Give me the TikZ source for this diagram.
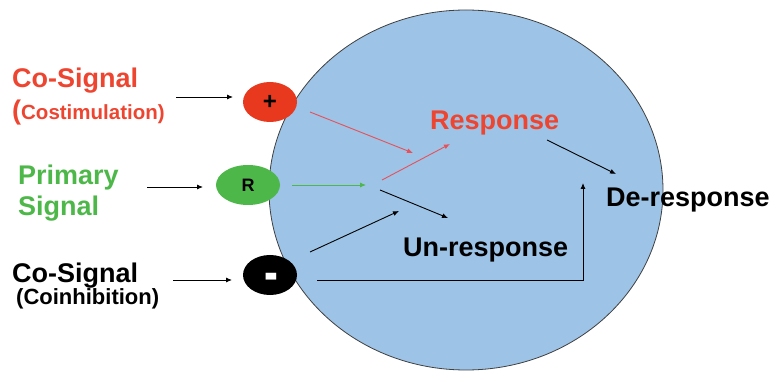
\documentclass[tikz,border=0pt]{standalone}
\usepackage{fontspec}
\setmainfont{Liberation Sans}
\usetikzlibrary{arrows.meta,shapes.geometric}
\definecolor{cred}{HTML}{EE4530}
\definecolor{ered}{HTML}{E8391F}
\definecolor{cgreen}{HTML}{4DB849}
\definecolor{cblue}{HTML}{9DC3E6}
\definecolor{lred}{HTML}{E8505A}
\tikzset{
  big/.style={inner sep=0pt, font=\fontsize{27}{32}\selectfont\bfseries},
  blob/.style={ellipse, minimum width=54pt, minimum height=40pt, inner sep=0pt},
  arr/.style={-{Latex[length=6pt,width=5pt]}, line width=0.9pt},
}
\begin{document}
\begin{tikzpicture}[x=1pt,y=-1pt]
\useasboundingbox (0,0) rectangle (776,371);
% big cell
\node[draw=black!75, line width=0.8pt, fill=cblue, ellipse, minimum width=394pt, minimum height=360pt, inner sep=0pt] (cell) at (466,190) {};
% left labels
\node[big, text=cred, anchor=base west] (cosig) at (12,88) {Co-Signal};
\node[inner sep=0pt, text=cred, anchor=base west, font=\bfseries] (costim) at (12,120) {{\fontsize{27}{32}\selectfont(}{\fontsize{20.5}{24}\selectfont Costimulation)}};
\node[big, text=cgreen, anchor=base west] (prim) at (18,185) {Primary};
\node[big, text=cgreen, anchor=base west] (sig) at (18,216) {Signal};
\node[big, anchor=base west] (coinh) at (12,283) {Co-Signal};
\node[inner sep=0pt, anchor=base west, font=\fontsize{22}{24}\selectfont\bfseries] (coinhb) at (16,305) {(Coinhibition)};
% receptor blobs
\node[blob, fill=ered, font=\fontsize{24}{24}\selectfont\bfseries] (plus) at (270,102) {+};
\node[blob, fill=cgreen, minimum width=64pt, font=\fontsize{18}{18}\selectfont\bfseries] (R) at (248,185) {R};
\node[blob, fill=black] (minus) at (270,275) {};
\node[inner sep=0pt, text=white, anchor=base, font=\fontsize{26}{26}\selectfont\bfseries] (minuslbl) at (271,291) {\scalebox{1.6}[2.2]{-}};
% outcome labels
\node[big, text=cred, anchor=base west] (resp) at (430,130) {Response};
\node[big, anchor=base west] (unresp) at (403,257) {Un-response};
\node[big, anchor=base west] (deresp) at (606,207) {De-response};
% coordinates
\coordinate (a1s) at (176,97);  \coordinate (a1e) at (233,97);
\coordinate (a2s) at (147,187); \coordinate (a2e) at (203,187);
\coordinate (a3s) at (173,280); \coordinate (a3e) at (232,280);
\coordinate (r1s) at (310,112); \coordinate (r1e) at (413,153);
\coordinate (r2s) at (382,180); \coordinate (r2e) at (450,144);
\coordinate (g1s) at (292,185); \coordinate (g1e) at (366,185);
\coordinate (b1s) at (380,190); \coordinate (b1e) at (448,218);
\coordinate (b2s) at (310,252); \coordinate (b2e) at (399,211);
\coordinate (b3s) at (317,280); \coordinate (b3e) at (583,183);
\coordinate (d1s) at (547,140); \coordinate (d1e) at (616,174);
% arrows
\draw[arr] (a1s) -- (a1e);
\draw[arr] (a2s) -- (a2e);
\draw[arr] (a3s) -- (a3e);
\draw[arr, lred] (r1s) -- (r1e);
\draw[arr, lred] (r2s) -- (r2e);
\draw[arr, cgreen] (g1s) -- (g1e);
\draw[arr] (b1s) -- (b1e);
\draw[arr] (b2s) -- (b2e);
\draw[arr] (b3s) -| (b3e);
\draw[arr] (d1s) -- (d1e);
\end{tikzpicture}
\end{document}
